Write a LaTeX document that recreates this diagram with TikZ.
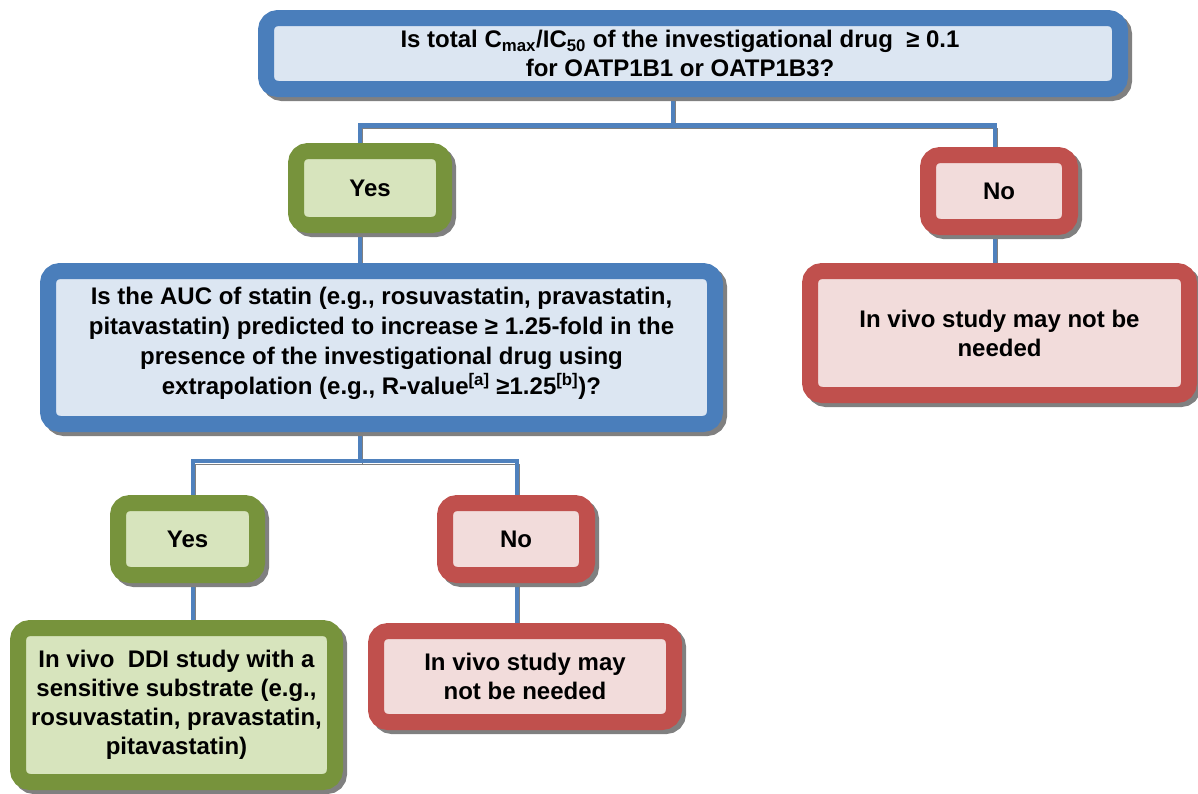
\documentclass[tikz,border=0pt]{standalone}
\usepackage{fontspec}
\setmainfont{Liberation Sans}
\pgfdeclarelayer{bg}
\pgfsetlayers{bg,main}
\definecolor{bbord}{HTML}{4A7EBB}
\definecolor{bfill}{HTML}{DCE6F2}
\definecolor{gbord}{HTML}{77933C}
\definecolor{gfill}{HTML}{D7E4BD}
\definecolor{rbord}{HTML}{C0504D}
\definecolor{rfill}{HTML}{F2DCDB}
\definecolor{shad}{HTML}{808080}
\definecolor{lineblue}{HTML}{4F81BD}
\tikzset{
  box/.style={rectangle, rounded corners=9pt, line width=12pt, inner sep=0pt, align=center,
    font=\fontsize{18pt}{21.75pt}\selectfont\bfseries,
    preaction={draw=shad, fill=shad, transform canvas={shift={(4,4)}}}},
  bluebox/.style={box, draw=bbord, fill=bfill},
  greenbox/.style={box, draw=gbord, fill=gfill},
  redbox/.style={box, draw=rbord, fill=rfill},
  conn/.style={draw=lineblue, line width=3.4pt,
    preaction={draw=shad, transform canvas={shift={(2,3)}}}},
}
\begin{document}
\begin{tikzpicture}[x=0.75pt, y=-0.75pt]
\useasboundingbox (0,0) rectangle (1198,793);
\node[bluebox, minimum width=640.5pt, minimum height=53.25pt] (top) at (693,53.5)
  {Is total C\textsubscript{max}/IC\textsubscript{50} of the investigational drug \ ≥ 0.1\hspace*{19.5pt}\\for OATP1B1 or OATP1B3?\hspace*{19.5pt}};
\node[greenbox, minimum width=111pt, minimum height=55.5pt] (yes1) at (370,188) {Yes};
\node[redbox, minimum width=106.5pt, minimum height=54pt] (no1) at (999,191) {No};
\node[redbox, minimum width=284.25pt, minimum height=93pt] (res1) at (999.5,333)
  {In vivo study may not be\\needed};
\node[bluebox, minimum width=500.25pt, minimum height=114.75pt,
      font=\fontsize{18pt}{22.5pt}\selectfont\bfseries] (auc) at (381.5,347.5)
  {Is the AUC of statin (e.g., rosuvastatin, pravastatin,\\pitavastatin) predicted to increase ≥ 1.25-fold in the\\presence of the investigational drug using\\extrapolation (e.g., R-value\textsuperscript{[a]} ≥1.25\textsuperscript{[b]})?\\[-12pt]};
\node[greenbox, minimum width=104.25pt, minimum height=54pt] (yes2) at (187.5,539) {Yes};
\node[redbox, minimum width=106.5pt, minimum height=54pt] (no2) at (516,539) {No};
\node[greenbox, minimum width=237.75pt, minimum height=115.5pt] (res2) at (176.5,705)
  {In vivo \ DDI study with a\\sensitive substrate (e.g.,\\rosuvastatin, pravastatin,\\pitavastatin)};
\node[redbox, minimum width=223.5pt, minimum height=68.25pt] (res3) at (525,676.5)
  {In vivo study may\\not be needed};
\coordinate (h1m) at (673,125.5);
\coordinate (h1l) at (360,125.5);
\coordinate (h1r) at (995,125.5);
\coordinate (h2l) at (193,461);
\coordinate (h2r) at (517,461);
\begin{pgfonlayer}{bg}
\fill[white] (0,0) rectangle (1198,793);
\draw[conn] (top.south -| h1m) -- (h1m);
\draw[conn] (yes1.north -| h1l) -- (h1l) -- (h1r) -- (no1.north -| h1r);
\draw[conn] (no1.south -| h1r) -- (res1.north -| h1r);
\draw[conn] (yes1.south -| h1l) -- (auc.north -| h1l);
\draw[conn] (auc.south -| h1l) -- (h1l |- h2l);
\draw[conn] (yes2.north -| h2l) -- (h2l) -- (h2r) -- (no2.north -| h2r);
\draw[conn] (yes2.south -| h2l) -- (res2.north -| h2l);
\draw[conn] (no2.south -| h2r) -- (res3.north -| h2r);
\end{pgfonlayer}
\end{tikzpicture}
\end{document}
